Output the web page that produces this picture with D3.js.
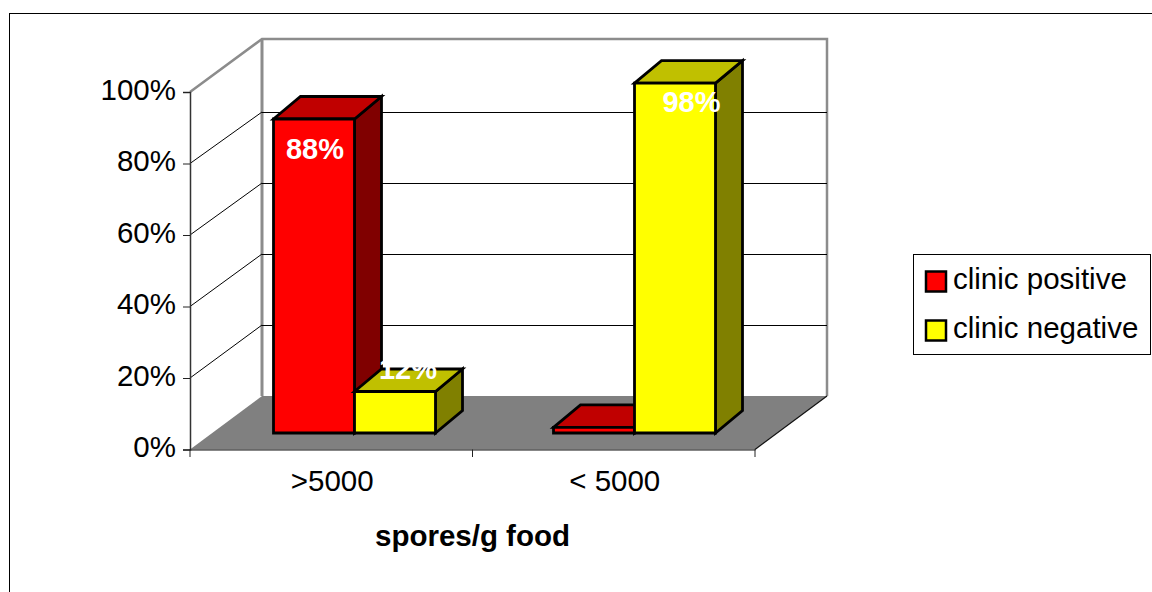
<!DOCTYPE html>
<html><head><meta charset="utf-8">
<script src="https://cdnjs.cloudflare.com/ajax/libs/d3/7.8.5/d3.min.js"></script>
<style>html,body{margin:0;padding:0;background:#fff;overflow:hidden}svg{display:block}text{font-family:"Liberation Sans",Arial,sans-serif}</style>
</head><body><svg id="c" width="1152" height="592"></svg>
<script>
const categories = [">5000", "< 5000"];
const seriesNames = ["clinic positive", "clinic negative"];
const positive = [88, 2];
const negative = [12, 98];
const yTicks = [0, 20, 40, 60, 80, 100];
const axisTitle = "spores/g food";
const faceColors = {
  "clinic positive": {front:"#ff0000", top:"#c00000", side:"#800000"},
  "clinic negative": {front:"#ffff00", top:"#c0c000", side:"#808000"}
};
const valueLabels = [
  {c:0, s:0, text:"88%", dx:1,    dy:40},
  {c:0, s:1, text:"12%", dx:13,   dy:-12.6},
  {c:1, s:1, text:"98%", dx:16.5, dy:29}
];
const values = [positive, negative];

const svg = d3.select("#c");
const L=190,R=755,Y0=449.5,Y100=92,DX=72,BY0=396,BY100=41;
const x = d3.scaleBand().domain(categories).range([L,R]);
const xBar = d3.scaleBand().domain(categories).range([L,L+560]);
const yFront = d3.scaleLinear().domain([0,100]).range([Y0,Y100]);
const yBack = d3.scaleLinear().domain([0,100]).range([BY0,BY100]);
const yBar = d3.scaleLinear().domain([0,100]).range([434.5,76]);
const x1 = d3.scaleBand().domain(seriesNames).range([83.5,245.5]);
const bdx=27, bdy=22.5, barBase=433;
const line = d3.line();
const poly=(pts,fill,stroke,w)=>svg.append("path").attr("d",line(pts)+"Z").attr("fill",fill).attr("stroke",stroke||"none").attr("stroke-width",w||0).attr("stroke-linejoin","miter");
const seg=(x1_,y1_,x2_,y2_,c,w)=>svg.append("line").attr("x1",x1_).attr("y1",y1_).attr("x2",x2_).attr("y2",y2_).attr("stroke",c).attr("stroke-width",w);

svg.append("rect").attr("x",9.5).attr("y",13.5).attr("width",1200).attr("height",700).attr("fill","#fff").attr("stroke","#000").attr("stroke-width",1);

poly([[L,Y0],[R,Y0],[R+DX,BY0],[L+DX,BY0]],"#808080");
const wallC="#8c8c8c";
svg.append("path").attr("d",line([[L,Y100],[L+DX,39],[R+DX,39],[R+DX,BY0]])).attr("fill","none").attr("stroke",wallC).attr("stroke-width",2.5);
seg(L+DX,39,L+DX,BY0,wallC,3);

yTicks.filter(t=>t>0&&t<100).forEach(t=>{
  seg(L,yFront(t),L+DX,yBack(t),"#000",1);
  seg(L+DX,yBack(t),R+DX,yBack(t),"#000",1).attr("shape-rendering","crispEdges");
});

const gy=svg.append("g").attr("transform",`translate(${L},0)`)
  .call(d3.axisLeft(yFront).tickValues(yTicks).tickFormat(d=>d+"%").tickSize(7).tickPadding(7));
gy.selectAll("path").attr("stroke","#333").attr("stroke-width",1.5);
gy.selectAll("line").attr("stroke","#222");
gy.selectAll("text").attr("font-size",29.5).attr("fill","#000").attr("font-family",'"Liberation Sans"').attr("dy","0.24em");
const gx=svg.append("g").attr("transform",`translate(1,${Y0})`)
  .call(d3.axisBottom(x).tickValues(categories).tickSize(0).tickPadding(20));
gx.select("path").attr("stroke","#111").attr("stroke-width",1.2).attr("transform","translate(-1,0)");
gx.selectAll("text").attr("font-size",29.5).attr("fill","#000").attr("font-family",'"Liberation Sans"').attr("dy","0.72em");
[L,(L+R)/2,R].forEach(v=>seg(v,Y0,v,457,"#222",1));
seg(R,Y0,R+DX,BY0,"#111",1.2);

categories.forEach((cat,c)=>{
  seriesNames.forEach((name,s)=>{
    const xl=xBar(cat)+x1(name), xr=xl+x1.bandwidth(), yt=yBar(values[s][c]), yb=barBase, col=faceColors[name];
    poly([[xr,yt],[xr+bdx,yt-bdy],[xr+bdx,yb-bdy],[xr,yb]],col.side,"#000",2.8);
    poly([[xl,yt],[xl+bdx,yt-bdy],[xr+bdx,yt-bdy],[xr,yt]],col.top,"#000",2.8);
    poly([[xl,yt],[xr,yt],[xr,yb],[xl,yb]],col.front,"#000",2.8);
  });
});
valueLabels.forEach(l=>{
  const name=seriesNames[l.s], xl=xBar(categories[l.c])+x1(name);
  svg.append("text").attr("x",xl+x1.bandwidth()/2+l.dx).attr("y",yBar(values[l.s][l.c])+l.dy)
    .attr("text-anchor","middle").attr("font-size",29).attr("font-weight","bold").attr("fill","#fff").text(l.text);
});
svg.append("text").attr("x",472.5).attr("y",546).attr("text-anchor","middle").attr("font-size",29.5).attr("font-weight","bold").attr("fill","#000").text(axisTitle);

svg.append("rect").attr("x",913.5).attr("y",254.5).attr("width",237).attr("height",100).attr("fill","#fff").attr("stroke","#000").attr("stroke-width",1);
seriesNames.forEach((name,i)=>{
  const yy=271.5+i*49;
  svg.append("rect").attr("x",926).attr("y",yy).attr("width",20).attr("height",20).attr("fill",faceColors[name].front).attr("stroke","#000").attr("stroke-width",2.5);
  svg.append("text").attr("x",953).attr("y",yy+17.5).attr("font-size",29.5).attr("fill","#000").text(name);
});
</script></body></html>
